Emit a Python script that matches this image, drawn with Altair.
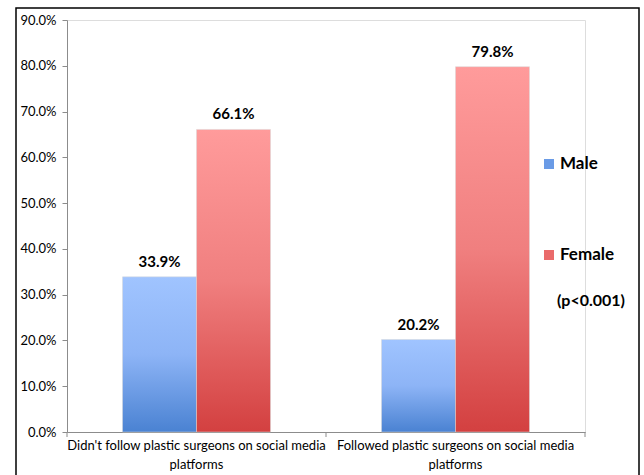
import altair as alt
import pandas as pd

categories = ["Didn't follow plastic surgeons on social media platforms",
              "Followed plastic surgeons on social media platforms"]
male_values = [0.339, 0.202]
female_values = [0.661, 0.798]
y_ticks = [0.0, 0.1, 0.2, 0.3, 0.4, 0.5, 0.6, 0.7, 0.8, 0.9]
genders = ["Male", "Female"]

rows = []
for c, m, f in zip(categories, male_values, female_values):
    rows.append({"cat": c, "gender": "Male", "value": m})
    rows.append({"cat": c, "gender": "Female", "value": f})
df = pd.DataFrame(rows)

FONT = "Lato"
W, H = 518, 412

xscale = alt.Scale(domain=categories, paddingInner=0, paddingOuter=0)
offscale = alt.Scale(domain=genders, paddingOuter=0.75, paddingInner=0)
yscale = alt.Scale(domain=[0, 0.9], nice=False)

x_enc = alt.X("cat:N", scale=xscale, sort=categories,
              axis=alt.Axis(title=None, labelAngle=0, ticks=False, labelLimit=0,
                            domainColor="#8c8c8c", labelFont=FONT, labelFontSize=13,
                            labelColor="black", labelPadding=7, labelLineHeight=19,
                            labelExpr="[slice(datum.label, 0, lastindexof(datum.label, ' ')), 'platforms']"))
y_enc = alt.Y("value:Q", scale=yscale,
              axis=alt.Axis(title=None, values=y_ticks, format=".1%", grid=False,
                            domainColor="#8c8c8c", tickColor="#8c8c8c", tickSize=5,
                            labelFont=FONT, labelFontSize=13, labelColor="black",
                            labelPadding=6))

blue_grad = alt.Gradient(gradient="linear", x1=0, x2=0, y1=0, y2=1,
                         stops=[alt.GradientStop(color="#a0c4ff", offset=0),
                                alt.GradientStop(color="#8db4f6", offset=0.5),
                                alt.GradientStop(color="#4a82d2", offset=1)])
red_grad = alt.Gradient(gradient="linear", x1=0, x2=0, y1=0, y2=1,
                        stops=[alt.GradientStop(color="#ff9b9b", offset=0),
                               alt.GradientStop(color="#f07f7f", offset=0.5),
                               alt.GradientStop(color="#d34040", offset=1)])

base = alt.Chart(df)

male_bars = base.transform_filter(alt.datum.gender == "Male").mark_bar(
    fill=blue_grad, stroke="#d9d9d9", strokeWidth=0.5).encode(
    x=x_enc, xOffset=alt.XOffset("gender:N", scale=offscale, sort=genders), y=y_enc)
female_bars = base.transform_filter(alt.datum.gender == "Female").mark_bar(
    fill=red_grad, stroke="#d9d9d9", strokeWidth=0.5).encode(
    x=x_enc, xOffset=alt.XOffset("gender:N", scale=offscale, sort=genders), y=y_enc)

labels = base.mark_text(font=FONT, fontSize=15, fontWeight="bold", dy=-15,
                        color="black", baseline="middle").encode(
    x=x_enc, xOffset=alt.XOffset("gender:N", scale=offscale, sort=genders), y=y_enc,
    text=alt.Text("value:Q", format=".1%"))

tick_df = pd.DataFrame({"cat": categories})
cat_ticks = alt.Chart(tick_df).mark_rule(color="#8c8c8c").encode(
    x=alt.X("cat:N", scale=xscale, sort=categories, bandPosition=0),
    y=alt.value(H), y2=alt.value(H + 5))
end_tick = alt.Chart(tick_df.iloc[[-1]]).mark_rule(color="#8c8c8c").encode(
    x=alt.X("cat:N", scale=xscale, sort=categories, bandPosition=1),
    y=alt.value(H), y2=alt.value(H + 5))

leg_df = pd.DataFrame({"gender": genders, "py": [144, 235]})
leg_sq = alt.Chart(leg_df).mark_square(size=100, opacity=1).encode(
    x=alt.value(482), y=alt.Y("py:Q", scale=None),
    fill=alt.Fill("gender:N", scale=alt.Scale(domain=genders, range=["#6a9be6", "#ea6b6b"]),
                  legend=None))
leg_txt = alt.Chart(leg_df).mark_text(font=FONT, fontSize=17, fontWeight="bold",
                                      align="left", baseline="middle", color="black").encode(
    x=alt.value(493), y=alt.Y("py:Q", scale=None), text="gender:N")
p_df = pd.DataFrame({"t": ["(p<0.001)"], "py": [281]})
p_txt = alt.Chart(p_df).mark_text(font=FONT, fontSize=16, fontWeight="bold",
                                  align="left", baseline="middle", color="black").encode(
    x=alt.value(490), y=alt.Y("py:Q", scale=None), text="t:N")

border = alt.Chart(p_df).mark_rect(fill=None, stroke="black", strokeWidth=1.5).encode(
    x=alt.value(-51), x2=alt.value(572), y=alt.value(-12), y2=alt.value(470))

chart = alt.layer(border, male_bars, female_bars, labels, cat_ticks, end_tick,
                  leg_sq, leg_txt, p_txt).properties(
    width=W, height=H,
    padding={"left": 67, "top": 20, "right": 59, "bottom": 43},
    autosize=alt.AutoSizeParams(type="none"),
).configure_view(stroke=None).configure(background="white")

chart.save("out.html", embed_options={"renderer": "svg", "actions": False})
